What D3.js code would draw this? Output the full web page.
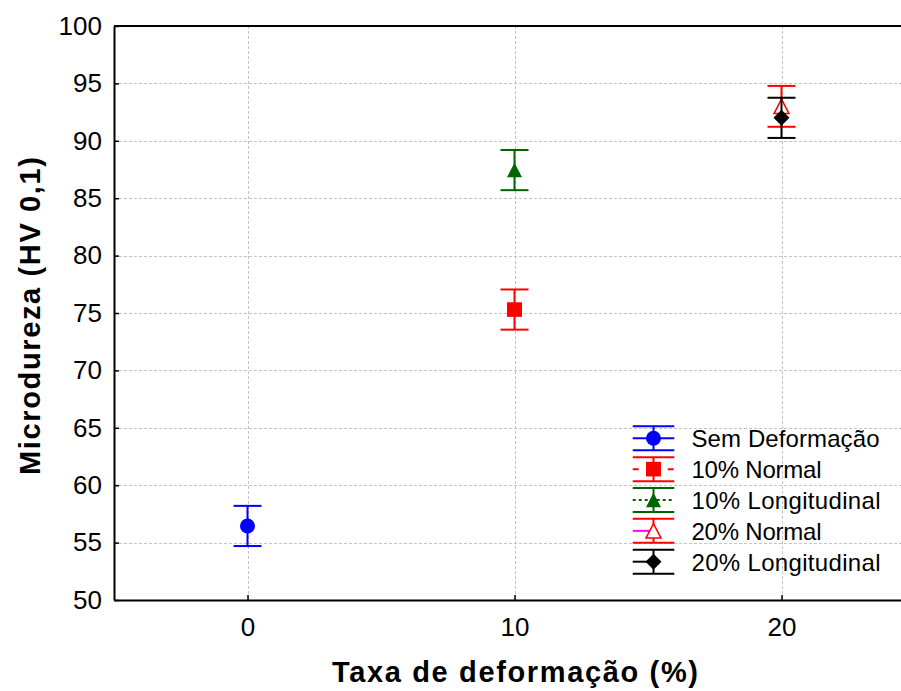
<!DOCTYPE html>
<html>
<head>
<meta charset="utf-8">
<script src="https://cdn.jsdelivr.net/npm/d3@7"></script>
<style>
  body { margin: 0; background: #fff; }
  text { font-family: "Liberation Sans", Arial, sans-serif; fill: #000; }
</style>
</head>
<body>
<div class="app"></div>
<script>
// Values.
var grupos = ["Sem Deformação", "10% Normal", "10% Longitudinal", "20% Normal", "20% Longitudinal"];
var taxa = [0, 10, 10, 20, 20];
var media = [56.45, 75.3, 87.45, 93.0, 92.0];
var erro = [1.75, 1.75, 1.75, 1.78, 1.75];
var xTicks = [0, 10, 20];
var yTicks = [50, 55, 60, 65, 70, 75, 80, 85, 90, 95, 100];

// Look of each series (marker, colours, legend middle line).
var estilos = [
    {marker: "circle",   color: "#0000ff", fill: "#0000ff", mid: "#0000ff", midDash: null,   midEnd: 41.6},
    {marker: "square",   color: "#ff0000", fill: "#ff0000", mid: "#ff0000", midDash: "6,29", midEnd: 41.6},
    {marker: "triangle", color: "#006400", fill: "#006400", mid: "#006400", midDash: "3,3",  midEnd: 41.6},
    {marker: "triangle", color: "#ff0000", fill: "#ffffff", mid: "#ff00ff", midDash: null,   midEnd: 19},
    {marker: "diamond",  color: "#000000", fill: "#000000", mid: "#000000", midDash: null,   midEnd: 22}
];

var W = 901, H = 691;
var plot = {left: 114, top: 26, right: 915, bottom: 600};

var svg = d3.select(".app").append("svg")
    .attr("width", W)
    .attr("height", H);

var x = d3.scaleLinear().domain([-5, 25]).range([plot.left, plot.right]),
    y = d3.scaleLinear().domain([50, 100]).range([plot.bottom, plot.top]);

// marker paths, centred on 0,0
function markerPath(type) {
    switch (type) {
        case "circle":
            return d3.symbol().type(d3.symbolCircle).size(Math.PI * 7.5 * 7.5)();
        case "square":
            return "M-7.5,-7.3H7.5V7.3H-7.5Z";
        case "triangle":
            return "M0,-7.2L7.5,7.2L-7.5,7.2Z";
        case "diamond":
            return "M0,-8L8,0L0,8L-8,0Z";
    }
}

// grid
var grid = svg.append("g").attr("class", "grid")
    .attr("stroke", "#c4c4c4")
    .attr("stroke-width", 1)
    .attr("stroke-dasharray", "3,2");

grid.selectAll(".gy")
    .data(yTicks.slice(1, -1))
    .enter().append("line")
    .attr("x1", plot.left).attr("x2", plot.right)
    .attr("y1", function(d){ return Math.round(y(d)) + 0.5; })
    .attr("y2", function(d){ return Math.round(y(d)) + 0.5; });

grid.selectAll(".gx")
    .data(xTicks)
    .enter().append("line")
    .attr("y1", plot.top).attr("y2", plot.bottom)
    .attr("x1", function(d){ return Math.round(x(d)) + 0.5; })
    .attr("x2", function(d){ return Math.round(x(d)) + 0.5; });

// axes
var yAxis = d3.axisLeft(y).tickValues(yTicks).tickSizeInner(-5).tickSizeOuter(0).tickPadding(12),
    xAxis = d3.axisBottom(x).tickValues(xTicks).tickSizeInner(-5).tickSizeOuter(0).tickPadding(18);

var gy = svg.append("g")
    .attr("class", "axis axis--y")
    .attr("transform", "translate(" + plot.left + ",0)")
    .call(yAxis);

var gx = svg.append("g")
    .attr("class", "axis axis--x")
    .attr("transform", "translate(0," + plot.bottom + ")")
    .call(xAxis);

svg.selectAll(".axis path").attr("stroke", "#000").attr("stroke-width", 2);
svg.selectAll(".axis line").attr("stroke", "#000").attr("stroke-width", 1.5);
svg.selectAll(".axis text")
    .attr("font-family", "Liberation Sans, Arial, sans-serif")
    .attr("font-size", 26)
    .attr("fill", "#000");

// frame top & right
svg.append("path")
    .attr("d", "M" + plot.left + "," + plot.top + "H" + plot.right + "V" + plot.bottom)
    .attr("fill", "none")
    .attr("stroke", "#000")
    .attr("stroke-width", 2);

// error bars + markers
var capHalf = 14;
var series = svg.append("g").attr("class", "series")
    .selectAll("g")
    .data(grupos.map(function(g, i){
        return {nome: g, x: taxa[i], m: media[i], e: erro[i], s: estilos[i]};
    }))
    .enter().append("g");

series.append("line")
    .attr("x1", function(d){ return x(d.x); })
    .attr("x2", function(d){ return x(d.x); })
    .attr("y1", function(d){ return y(d.m + d.e); })
    .attr("y2", function(d){ return y(d.m - d.e); })
    .attr("stroke", function(d){ return d.s.color; })
    .attr("stroke-width", 2);

series.selectAll(".cap")
    .data(function(d){ return [d.m + d.e, d.m - d.e].map(function(v){ return {v: v, d: d}; }); })
    .enter().append("line")
    .attr("x1", function(c){ return x(c.d.x) - capHalf; })
    .attr("x2", function(c){ return x(c.d.x) + capHalf; })
    .attr("y1", function(c){ return y(c.v); })
    .attr("y2", function(c){ return y(c.v); })
    .attr("stroke", function(c){ return c.d.s.color; })
    .attr("stroke-width", 2);

series.append("path")
    .attr("d", function(d){ return markerPath(d.s.marker); })
    .attr("transform", function(d){ return "translate(" + x(d.x) + "," + y(d.m) + ")"; })
    .attr("fill", function(d){ return d.s.fill; })
    .attr("stroke", function(d){ return d.s.color; })
    .attr("stroke-width", function(d){ return d.s.fill === "#ffffff" ? 1.5 : 0; });

// legend
var legX = 632.7, legW = 41.6, legY0 = 438.3, legStep = 30.85, legCap = 12;
var legendWidths = [188, 130, 189, 130, 189];

var legend = svg.append("g").attr("class", "legend")
    .selectAll("g")
    .data(grupos)
    .enter().append("g")
    .attr("transform", function(d, i){ return "translate(" + legX + "," + (legY0 + i * legStep) + ")"; });

legend.append("line")
    .attr("x1", 0)
    .attr("x2", function(d, i){ return estilos[i].midEnd; })
    .attr("y1", 0).attr("y2", 0)
    .attr("stroke", function(d, i){ return estilos[i].mid; })
    .attr("stroke-width", 2)
    .attr("stroke-dasharray", function(d, i){ return estilos[i].midDash; });

legend.append("line")
    .attr("x1", legW / 2).attr("x2", legW / 2)
    .attr("y1", -legCap).attr("y2", legCap)
    .attr("stroke", function(d, i){ return estilos[i].color; })
    .attr("stroke-width", 2);

legend.selectAll(".lcap")
    .data(function(d, i){ return [-legCap, legCap].map(function(v){ return {v: v, i: i}; }); })
    .enter().append("line")
    .attr("x1", 0).attr("x2", legW)
    .attr("y1", function(c){ return c.v; })
    .attr("y2", function(c){ return c.v; })
    .attr("stroke", function(c){ return estilos[c.i].color; })
    .attr("stroke-width", 2);

legend.append("path")
    .attr("d", function(d, i){ return markerPath(estilos[i].marker); })
    .attr("transform", "translate(" + (legW / 2) + ",0)")
    .attr("fill", function(d, i){ return estilos[i].fill; })
    .attr("stroke", function(d, i){ return estilos[i].color; })
    .attr("stroke-width", function(d, i){ return estilos[i].fill === "#ffffff" ? 1.5 : 0; });

legend.append("text")
    .attr("x", 691.5 - legX)
    .attr("y", 9)
    .attr("font-size", 24)
    .attr("textLength", function(d, i){ return legendWidths[i]; })
    .attr("lengthAdjust", "spacing")
    .text(function(d){ return d; });

// axis titles
svg.append("text")
    .attr("x", 515)
    .attr("y", 681.5)
    .attr("text-anchor", "middle")
    .attr("font-size", 29)
    .attr("font-weight", "bold")
    .attr("textLength", 366)
    .attr("lengthAdjust", "spacing")
    .text("Taxa de deformação (%)");

svg.append("text")
    .attr("transform", "translate(40,316) rotate(-90)")
    .attr("text-anchor", "middle")
    .attr("font-size", 29)
    .attr("font-weight", "bold")
    .attr("textLength", 318)
    .attr("lengthAdjust", "spacing")
    .text("Microdureza (HV 0,1)");
</script>
</body>
</html>
